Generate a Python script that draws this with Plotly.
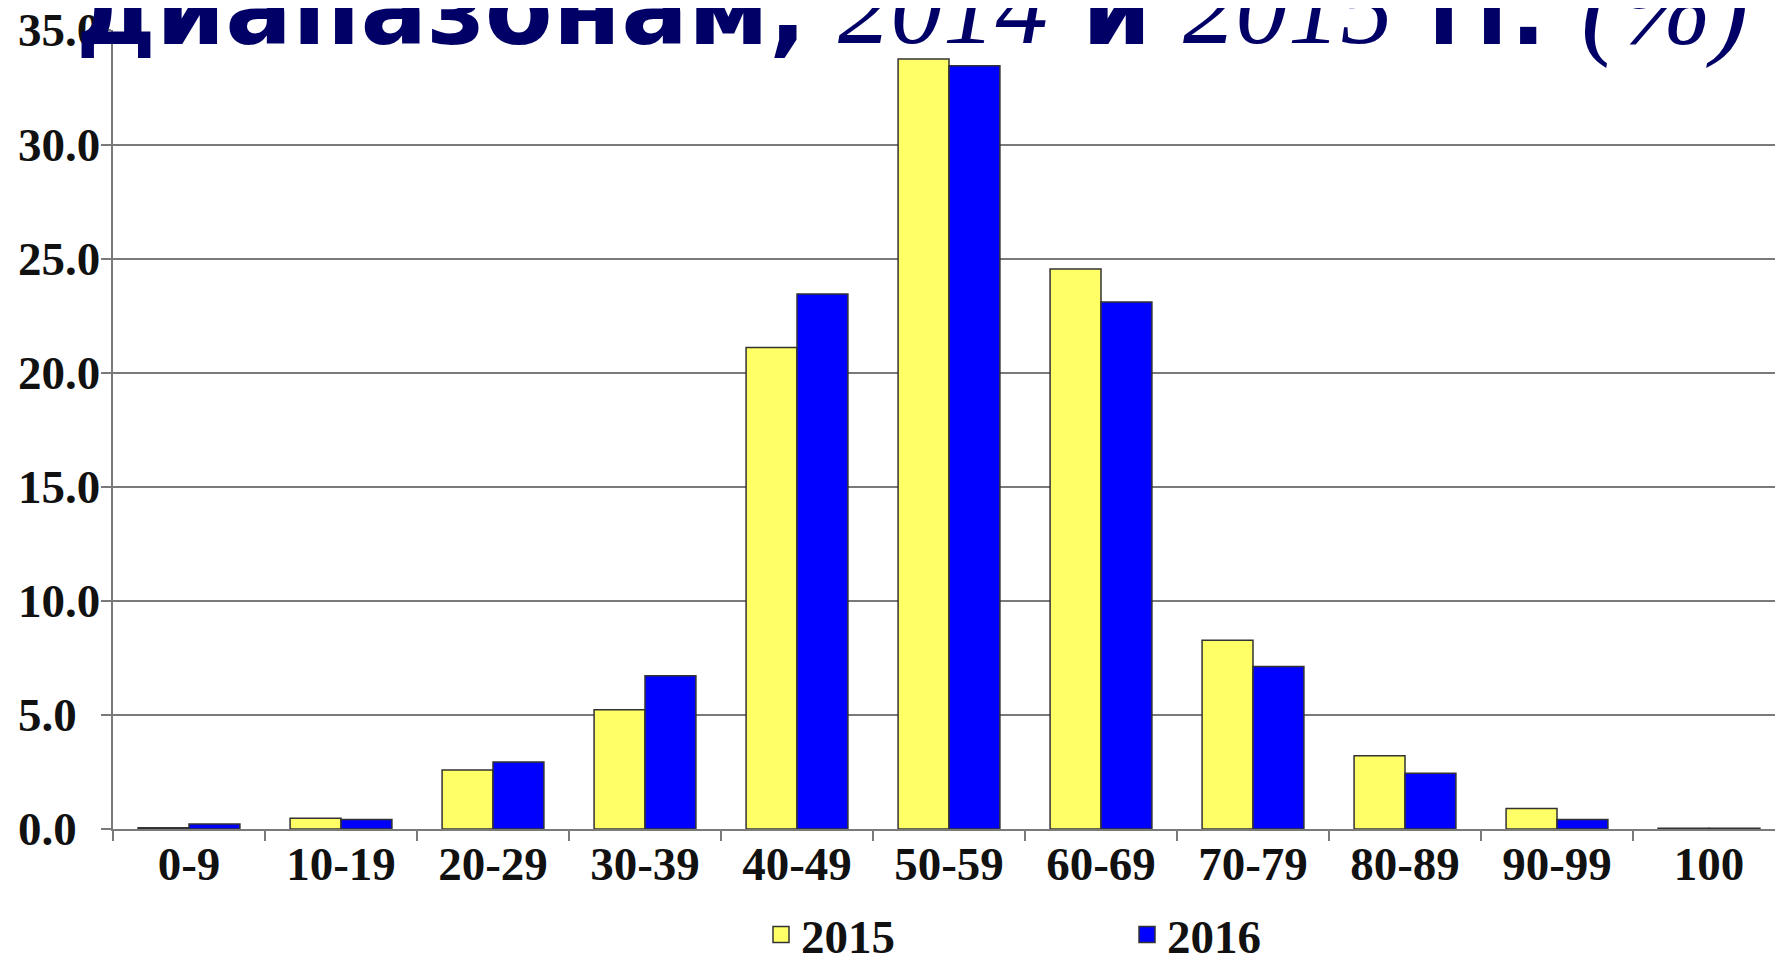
import plotly.graph_objects as go

categories = ["0-9", "10-19", "20-29", "30-39", "40-49", "50-59",
              "60-69", "70-79", "80-89", "90-99", "100"]
values_2015 = [0.05, 0.47, 2.59, 5.23, 21.1, 33.75, 24.55, 8.27, 3.21, 0.9, 0.03]
values_2016 = [0.22, 0.42, 2.94, 6.72, 23.45, 33.45, 23.1, 7.12, 2.44, 0.42, 0.03]
series_names = ["2015", "2016"]
ytick_vals = [0, 5, 10, 15, 20, 25, 30, 35]
ytick_text = ["0.0", "5.0", "10.0", "15.0", "20.0", "25.0", "30.0", "35.0"]
title_parts = ["диапазонам,", "2014", "и", "2015", "гг.", "(%)"]

YELLOW = "#FFFF66"
BLUE = "#0000FF"
OUTLINE = "#333333"
GRID = "#7a7a7a"
NAVY = "#000066"
TICKFONT = dict(family="Liberation Serif", size=47, color="#111111", weight=700)

# the page body has an 8px margin (figure coordinates = screen - 8)
W, H = 1767, 959
ML, MR, MT = 105, 0, 21.5
ZERO_Y = 821
MB = H - ZERO_Y
PW = W - ML - MR
PH = H - MT - MB
CAT_PX = 152  # pixel width of one category band
x_range = [-0.5, -0.5 + PW / CAT_PX]

fig = go.Figure()
for name, vals, col in [(series_names[0], values_2015, YELLOW),
                        (series_names[1], values_2016, BLUE)]:
    fig.add_trace(go.Bar(x=categories, y=vals, name=name, showlegend=False,
                         marker=dict(color=col, line=dict(color=OUTLINE, width=1.5))))
    # legend entry with a larger square symbol
    fig.add_trace(go.Scatter(x=[None], y=[None], mode="markers", name=name,
                             marker=dict(symbol="square", size=20, color=col,
                                         line=dict(color=OUTLINE, width=1.5))))

# left-aligned y tick labels
for v, t in zip(ytick_vals, ytick_text):
    fig.add_annotation(x=(8 - ML) / PW, xref="paper", y=v, yref="y",
                       text=t, showarrow=False, xanchor="left", yanchor="middle",
                       font=TICKFONT)

# title pieces (mixed bold sans / italic serif), sharing one baseline
SANS = dict(family="DejaVu Sans", weight=700, style="normal", desc=0.236)
SANS2 = dict(family="Liberation Sans", weight=700, style="normal", desc=0.212)
SERIF = dict(family="Liberation Serif", weight=400, style="italic", desc=0.216)
title_fonts = [(SANS, 99), (SERIF, 105), (SANS, 99), (SERIF, 105), (SANS2, 115), (SERIF, 112)]
title_left = [66, 828, 1072, 1173, 1418, 1571]
BASELINE = 36
for txt, (f, size), left in zip(title_parts, title_fonts, title_left):
    bottom = BASELINE + f["desc"] * size + 1
    fig.add_annotation(x=(left - ML) / PW, xref="paper",
                       y=1 - (bottom - MT) / PH, yref="paper",
                       xanchor="left", yanchor="bottom", showarrow=False, text=txt,
                       font=dict(family=f["family"], size=size, color=NAVY,
                                 weight=f["weight"], style=f["style"]))

fig.update_layout(
    width=W, height=H,
    margin=dict(l=ML, r=MR, t=MT, b=MB, pad=0, autoexpand=False),
    paper_bgcolor="white", plot_bgcolor="white",
    barmode="group", bargap=0.33, bargroupgap=0,
    showlegend=True,
    legend=dict(orientation="h", x=(753 - ML) / PW, xanchor="left",
                y=(ZERO_Y - 927) / PH, yanchor="middle",
                font=dict(family="Liberation Serif", size=47, color="#111111", weight=700),
                entrywidth=321, entrywidthmode="pixels", itemsizing="trace",
                bgcolor="rgba(0,0,0,0)"),
    xaxis=dict(type="category", range=x_range, showgrid=False, showline=True,
               linecolor=GRID, linewidth=2, ticks="outside", tickson="boundaries",
               ticklen=10, tickwidth=2, tickcolor=GRID, tickfont=TICKFONT,
               zeroline=False, ticklabelstandoff=-7),
    yaxis=dict(range=[0, 35.02], tickvals=ytick_vals, showticklabels=False,
               showgrid=True, gridcolor=GRID, gridwidth=2, showline=True,
               linecolor=GRID, linewidth=2, ticks="outside", ticklen=10,
               tickwidth=2, tickcolor=GRID, zeroline=False),
)

fig.write_html("out.html")
